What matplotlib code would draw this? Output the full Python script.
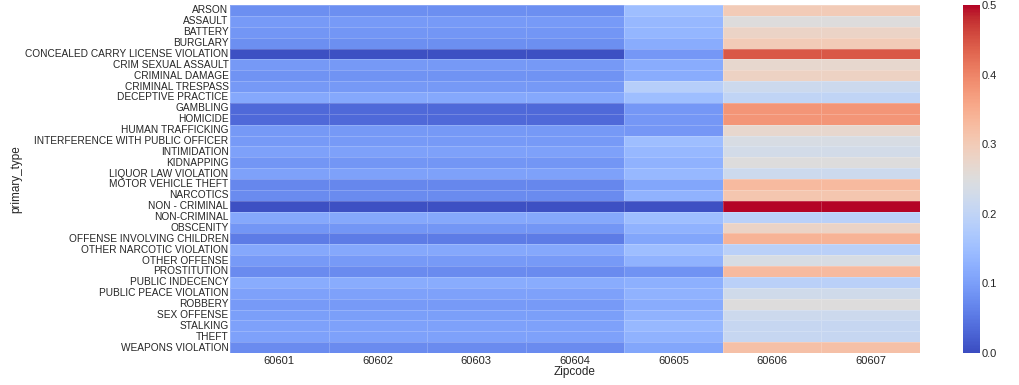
import matplotlib
matplotlib.use("Agg")
import matplotlib.pyplot as plt
import seaborn as sns
import numpy as np
import pandas as pd

zipcodes = ["60601", "60602", "60603", "60604", "60605", "60606", "60607"]

crime_types = ["ARSON", "ASSAULT", "BATTERY", "BURGLARY",
               "CONCEALED CARRY LICENSE VIOLATION", "CRIM SEXUAL ASSAULT",
               "CRIMINAL DAMAGE", "CRIMINAL TRESPASS", "DECEPTIVE PRACTICE",
               "GAMBLING", "HOMICIDE", "HUMAN TRAFFICKING",
               "INTERFERENCE WITH PUBLIC OFFICER", "INTIMIDATION", "KIDNAPPING",
               "LIQUOR LAW VIOLATION", "MOTOR VEHICLE THEFT", "NARCOTICS",
               "NON - CRIMINAL", "NON-CRIMINAL", "OBSCENITY",
               "OFFENSE INVOLVING CHILDREN", "OTHER NARCOTIC VIOLATION",
               "OTHER OFFENSE", "PROSTITUTION", "PUBLIC INDECENCY",
               "PUBLIC PEACE VIOLATION", "ROBBERY", "SEX OFFENSE", "STALKING",
               "THEFT", "WEAPONS VIOLATION"]

# share for 60601-60604 (same value in each), 60605, and 60606-60607
central = [0.080, 0.095, 0.088, 0.080, 0.005, 0.092, 0.085, 0.092, 0.115,
           0.035, 0.035, 0.092, 0.095, 0.105, 0.088, 0.105, 0.070, 0.075,
           0.005, 0.115, 0.088, 0.055, 0.115, 0.095, 0.075, 0.120, 0.105,
           0.095, 0.100, 0.105, 0.105, 0.075]
z60605 = [0.150, 0.140, 0.135, 0.120, 0.090, 0.120, 0.120, 0.185, 0.150,
          0.090, 0.090, 0.090, 0.150, 0.140, 0.130, 0.140, 0.110, 0.130,
          0.005, 0.150, 0.130, 0.110, 0.150, 0.130, 0.085, 0.125, 0.130,
          0.120, 0.130, 0.140, 0.130, 0.110]
west = [0.300, 0.250, 0.280, 0.300, 0.445, 0.270, 0.285, 0.220, 0.200,
        0.380, 0.380, 0.270, 0.240, 0.230, 0.250, 0.220, 0.330, 0.310,
        0.500, 0.190, 0.280, 0.340, 0.190, 0.240, 0.330, 0.190, 0.225,
        0.250, 0.220, 0.210, 0.210, 0.320]

df = pd.DataFrame({
    "60601": central, "60602": central, "60603": central, "60604": central,
    "60605": z60605, "60606": west, "60607": west}, index=crime_types)
df = df[zipcodes]
df.index.name = "primary_type"
df.columns.name = "Zipcode"

sns.set_style("white")
plt.rcParams["font.family"] = ["Liberation Sans", "DejaVu Sans"]

fig = plt.figure(figsize=(10.19, 3.85), dpi=100)
ax = fig.add_axes([0.2257, 0.083, 0.677, 0.904])
cax = fig.add_axes([0.945, 0.083, 0.017, 0.904])

sns.heatmap(df, ax=ax, cbar_ax=cax, cmap="coolwarm", vmin=0, vmax=0.5,
            linewidths=0.5, linecolor=(1, 1, 1, 0.2),
            xticklabels=True, yticklabels=True)

ax.tick_params(axis="y", length=0, labelsize=7.3, colors="#262626", pad=1)
ax.tick_params(axis="x", length=0, labelsize=8, colors="#262626", pad=2)
ax.set_yticklabels(ax.get_yticklabels(), rotation=0)
ax.set_xticklabels(ax.get_xticklabels(), rotation=0)
ax.set_xlabel("Zipcode", fontsize=8.5, color="#262626", labelpad=0)
ax.set_ylabel("primary_type", fontsize=8.5, color="#262626", labelpad=2)

cax.tick_params(length=0, labelsize=8, colors="#262626", pad=1)
cax.set_yticks([0.0, 0.1, 0.2, 0.3, 0.4, 0.5])

fig.savefig("out.png", dpi=100)
